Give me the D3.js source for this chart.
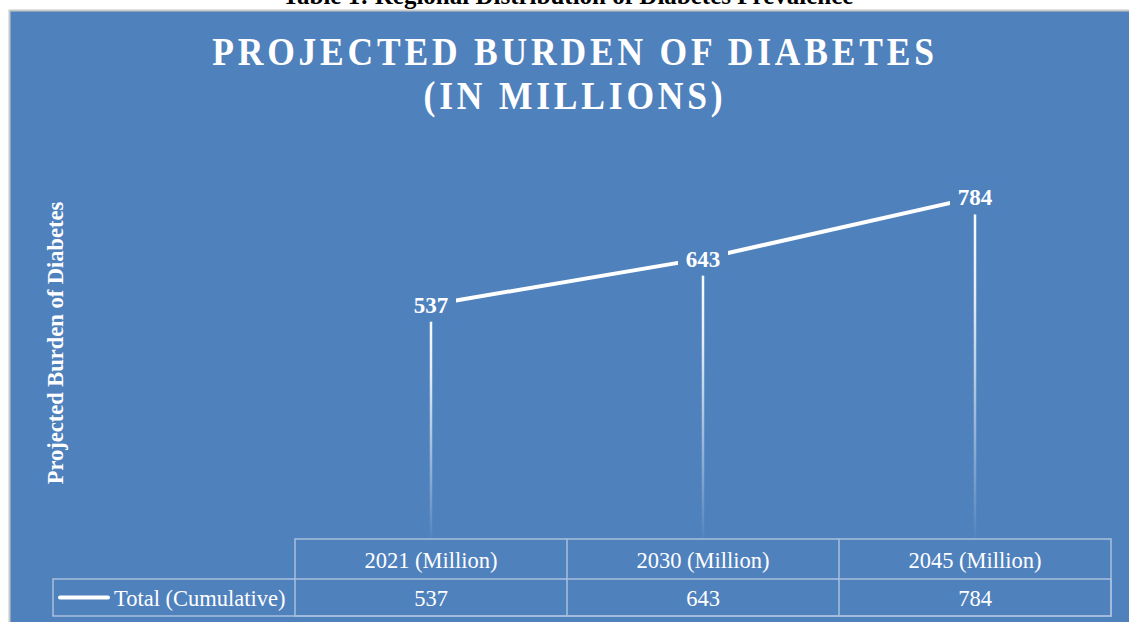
<!DOCTYPE html>
<html>
<head>
<meta charset="utf-8">
<script src="https://cdn.jsdelivr.net/npm/d3@7"></script>
<style>
  html, body { margin: 0; padding: 0; background: #fff; }
  svg { display: block; }
  text { font-family: "Liberation Serif", "Times New Roman", serif; }
</style>
</head>
<body>
<svg id="chart" width="1129" height="622"></svg>
<script>
// ---- data ----
const categories = ["2021 (Million)", "2030 (Million)", "2045 (Million)"];
const seriesName = "Total (Cumulative)";
const values = [537, 643, 784];
const titleLines = ["PROJECTED BURDEN OF DIABETES", "(IN MILLIONS)"];
const yAxisTitle = "Projected Burden of Diabetes";
const captionText = "Table 1: Regional Distribution of Diabetes Prevalence";

// ---- layout ----
const W = 1129, H = 622;
const blue = "#4f81bd";
const gridColor = "#a9c0de";
const svg = d3.select("#chart");

// caption above chart (cut off at top, as in the source document)
svg.append("text").attr("x", 568).attr("y", 4).attr("text-anchor", "middle")
  .attr("font-size", 25).attr("font-weight", "bold").attr("fill", "#000")
  .text(captionText);

// chart area background
svg.append("rect").attr("x", 9.5).attr("y", 10.5).attr("width", W).attr("height", H)
  .attr("fill", blue).attr("stroke", "#c8c8c8").attr("stroke-width", 2);

// title (horizontally condensed like the original)
const title = svg.append("text").attr("text-anchor", "middle").attr("fill", "#fff")
  .attr("transform", "translate(575,0) scale(0.91,1)")
  .attr("font-weight", "bold").attr("font-size", 39).attr("letter-spacing", 4.2);
titleLines.forEach((t, i) => {
  title.append("tspan").attr("x", 0).attr("y", 65 + i * 44).text(t);
});

// plot area
const plot = { left: 295, right: 1111, top: 147, bottom: 538 };
const x = d3.scaleBand().domain(categories).range([plot.left, plot.right]);
const y = d3.scaleLinear().domain([0, 900]).range([plot.bottom, plot.top]);
const cx = d => x(d) + x.bandwidth() / 2;

// y axis title
svg.append("text")
  .attr("transform", `translate(63, 343) rotate(-90)`)
  .attr("text-anchor", "middle").attr("fill", "#fff")
  .attr("font-weight", "bold").attr("font-size", 22.5)
  .text(yAxisTitle);

// gradient for drop lines
const defs = svg.append("defs");
const grad = defs.append("linearGradient").attr("id", "dropGrad")
  .attr("gradientUnits", "objectBoundingBox")
  .attr("x1", 0).attr("y1", 0).attr("x2", 0).attr("y2", 1);
grad.append("stop").attr("offset", "0%").attr("stop-color", "#fff").attr("stop-opacity", 1);
grad.append("stop").attr("offset", "30%").attr("stop-color", "#fff").attr("stop-opacity", 0.85);
grad.append("stop").attr("offset", "100%").attr("stop-color", "#fff").attr("stop-opacity", 0.03);

// drop lines
svg.append("g").selectAll("rect").data(values).join("rect")
  .attr("x", (d, i) => cx(categories[i]) - 1.25)
  .attr("y", d => y(d))
  .attr("width", 2.5)
  .attr("height", d => plot.bottom - y(d))
  .attr("fill", "url(#dropGrad)");

// line
const line = d3.line().x((d, i) => cx(categories[i])).y(d => y(d));
svg.append("path").datum(values).attr("d", line)
  .attr("fill", "none").attr("stroke", "#fff").attr("stroke-width", 4)
  .attr("stroke-linejoin", "round");

// data labels with blue background
const lbl = svg.append("g").selectAll("g").data(values).join("g")
  .attr("transform", (d, i) => `translate(${cx(categories[i])}, ${y(d)})`);
lbl.append("rect").attr("x", -25).attr("y", -17).attr("width", 50).attr("height", 34)
  .attr("fill", blue);
lbl.append("text").attr("text-anchor", "middle").attr("dy", "0.35em")
  .attr("fill", "#fff").attr("font-weight", "bold").attr("font-size", 23)
  .text(d => d);

// data table
const rowTop = 539, rowMid = 579, rowBot = 616, legendLeft = 53;
const tg = svg.append("g").attr("stroke", gridColor).attr("stroke-width", 1.5).attr("fill", "none");
tg.append("rect").attr("x", plot.left).attr("y", rowTop).attr("width", plot.right - plot.left).attr("height", rowBot - rowTop);
tg.append("rect").attr("x", legendLeft).attr("y", rowMid).attr("width", plot.right - legendLeft).attr("height", rowBot - rowMid);
tg.selectAll("line").data(categories.slice(1)).join("line")
  .attr("x1", d => x(d)).attr("x2", d => x(d)).attr("y1", rowTop).attr("y2", rowBot);

svg.append("g").selectAll("text").data(categories).join("text")
  .attr("x", d => cx(d)).attr("y", (rowTop + rowMid) / 2 + 1).attr("dy", "0.35em")
  .attr("text-anchor", "middle").attr("fill", "#fff").attr("font-size", 22.5)
  .text(d => d);
svg.append("g").selectAll("text").data(values).join("text")
  .attr("x", (d, i) => cx(categories[i])).attr("y", (rowMid + rowBot) / 2 + 1).attr("dy", "0.35em")
  .attr("text-anchor", "middle").attr("fill", "#fff").attr("font-size", 22.5)
  .text(d => d);

// legend key
svg.append("line").attr("x1", 60).attr("x2", 108).attr("y1", 597.5).attr("y2", 597.5)
  .attr("stroke", "#fff").attr("stroke-width", 4).attr("stroke-linecap", "round");
svg.append("text").attr("x", 114).attr("y", 598.5).attr("dy", "0.35em")
  .attr("fill", "#fff").attr("font-size", 22.5).text(seriesName);
</script>
</body>
</html>
